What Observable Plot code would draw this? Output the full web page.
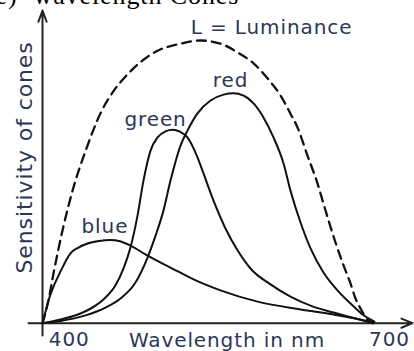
<!DOCTYPE html>
<html>
<head>
<meta charset="utf-8">
<script src="https://cdn.jsdelivr.net/npm/d3@7"></script>
<script src="https://cdn.jsdelivr.net/npm/@observablehq/plot@0.6"></script>
<style>
  html, body { margin: 0; padding: 0; background: #fff; }
  #chart svg { display: block; }
</style>
</head>
<body>
<div id="chart"></div>
<script>
// Wavelength (nm) and relative sensitivity readings for each curve
const lumNm   = [375, 380.6, 385.3, 393.7, 404.0, 416.2, 429.3, 441.5, 454.7, 466.8, 482.7, 504.3, 523.0, 541.7, 557.7, 572.7, 585.8, 598.0, 607.3, 613.9, 623.2, 632.6, 637.3, 642.9, 649.5, 656.0, 663.5, 668.2, 672.9, 678.5, 684.1];
const lumVal  = [0, 7.3, 15.9, 29.6, 43.4, 55.9, 67.1, 74.2, 79.6, 83.5, 87.1, 89.4, 90.4, 89.4, 86.6, 83.1, 78.3, 72.8, 67.0, 62.6, 53.6, 44.7, 39.3, 32.9, 25.8, 19.4, 12.7, 7.9, 4.7, 1.5, 0];

const redNm   = [375, 391.9, 415.3, 434.0, 448.1, 462.1, 473.4, 480.9, 488.3, 494.9, 504.3, 510.8, 520.2, 532.4, 544.6, 553.9, 563.3, 572.7, 582.0, 591.4, 600.8, 607.3, 616.7, 626.1, 638.2, 651.3, 663.5, 674.8, 686.0];
const redVal  = [0, 0.7, 2.5, 5.0, 7.9, 13.0, 21.0, 28.0, 36.0, 45.6, 56.8, 61.6, 67.1, 71.2, 73.1, 73.5, 72.8, 70.3, 65.8, 59.4, 51.1, 42.4, 32.2, 23.9, 16.2, 10.5, 6.3, 2.8, 0.5];

const greenNm  = [375, 391.9, 410.6, 424.6, 432.1, 443.4, 450.9, 457.4, 464.0, 469.6, 476.2, 482.7, 490.5, 497.0, 503.5, 510.8, 520.2, 525.8, 535.2, 546.4, 557.7, 569.8, 588.6, 607.3, 626.1, 647.6, 668.2, 685.1];
const greenVal = [0, 1.2, 3.1, 5.6, 7.6, 12.1, 17.5, 24.2, 34.4, 45.6, 55.2, 59.4, 61.4, 61.9, 61.3, 59.4, 53.0, 47.9, 39.2, 30.3, 23.3, 17.5, 12.4, 8.5, 5.6, 3.4, 1.5, 0];

const blueNm  = [375, 377.8, 380.6, 385.3, 389.1, 394.7, 401.2, 408.7, 417.2, 428.0, 438.5, 447.5, 457.4, 473.4, 494.9, 516.5, 541.7, 576.4, 616.7, 647.6, 668.2, 685.1];
const blueVal = [0, 3.7, 7.3, 11.7, 14.6, 18.5, 22.3, 24.2, 25.5, 26.3, 26.6, 26.2, 24.8, 21.6, 17.8, 14.0, 10.5, 6.9, 4.4, 2.8, 1.5, 0.2];

// Curve labels
const labelText = ["L = Luminance", "red", "green", "blue"];
const labelNm   = [589.5, 551.1, 480.9, 433.5];
const labelVal  = [92.6, 75.4, 63.2, 28.7];

// Axes
const xTicks = [400, 700];
const xLabel = "Wavelength in nm";
const yLabel = "Sensitivity of cones";
const titleParts = ["(e)", "wavelength Cones"];

const rows = (xs, ys, name) => xs.map((x, i) => ({nm: x, s: ys[i], series: name}));
const solid = [...rows(redNm, redVal, "red"), ...rows(greenNm, greenVal, "green"), ...rows(blueNm, blueVal, "blue")];
const dashed = rows(lumNm, lumVal, "L");
const labels = labelText.map((t, i) => ({t, nm: labelNm[i], s: labelVal[i]}));

const textColor = "#2e3656";

const plot = Plot.plot({
  width: 414,
  height: 351,
  marginLeft: 42,
  marginRight: 3.7,
  marginTop: 10,
  marginBottom: 28.3,
  x: {domain: [375, 720]},
  y: {domain: [0, 100], axis: null},
  style: {fontFamily: "DejaVu Sans", fontSize: "20px", letterSpacing: "0.9px", background: "#fff", overflow: "visible", color: textColor},
  marks: [
    Plot.axisX({ticks: xTicks, tickSize: 0, tickPadding: 9, label: null, fontSize: 20, fill: textColor}),
    // axes lines with arrow heads
    Plot.arrow([{x1: 361.9, x2: 721.6}], {x1: "x1", x2: "x2", y1: 0, y2: 0, stroke: "#222", strokeWidth: 2, headLength: 9, headAngle: 45}),
    Plot.arrow([{y1: -3.9, y2: 100}], {x1: 375, x2: 375, y1: "y1", y2: "y2", stroke: "#222", strokeWidth: 2, headLength: 9, headAngle: 40}),
    Plot.line(solid, {x: "nm", y: "s", z: "series", curve: "monotone-x", stroke: "#111", strokeWidth: 2}),
    Plot.line(dashed, {x: "nm", y: "s", curve: "monotone-x", stroke: "#111", strokeWidth: 2.3, strokeDasharray: "9,6"}),
    Plot.text(labels, {x: "nm", y: "s", text: "t", lineAnchor: "bottom", textAnchor: "middle", fontSize: 20, fill: textColor}),
    Plot.text([xLabel], {x: 547.8, y: -7.5, text: d => d, lineAnchor: "bottom", textAnchor: "middle", fontSize: 20, fill: textColor}),
    Plot.text([yLabel], {y: 53, frameAnchor: "left", dx: -18, rotate: -90, text: d => d, textAnchor: "middle", fontSize: 22, fill: textColor}),
    Plot.text([titleParts[0]], {frameAnchor: "top-left", dx: -25, dy: -6.5, text: d => d, textAnchor: "end", lineAnchor: "bottom", fontFamily: "Liberation Serif", fontSize: 26, fill: "#000", ariaLabel: "title"}),
    Plot.text([titleParts[1]], {frameAnchor: "top-left", dx: -9, dy: -6.5, text: d => d, textAnchor: "start", lineAnchor: "bottom", fontFamily: "Liberation Serif", fontSize: 26, fill: "#000", ariaLabel: "title"})
  ]
});
d3.select(plot).selectAll("g[aria-label='title'] text").attr("letter-spacing", 0);
document.getElementById("chart").appendChild(plot);
</script>
</body>
</html>
